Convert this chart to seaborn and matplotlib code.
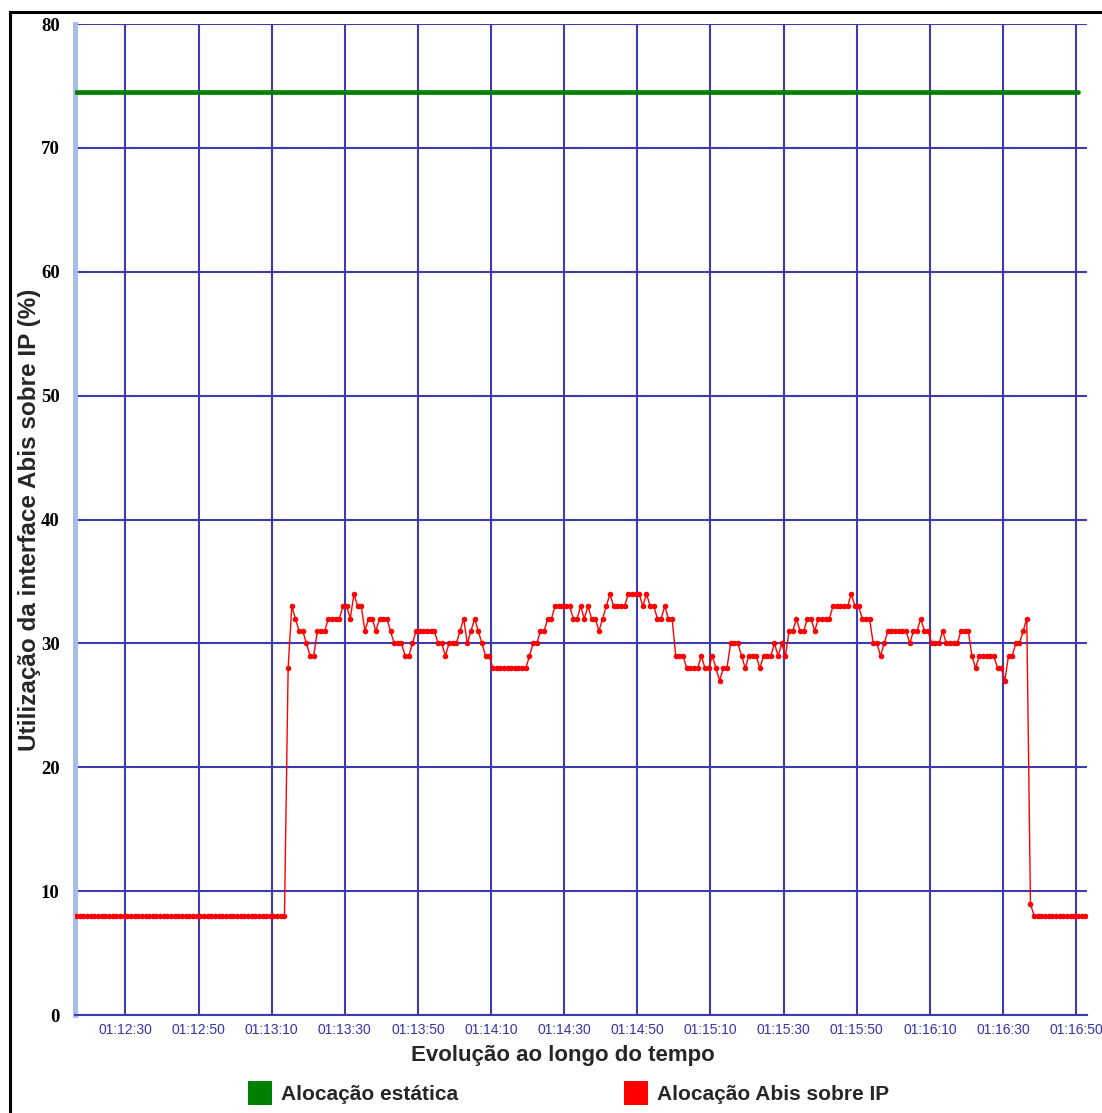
import matplotlib
matplotlib.use("Agg")
import matplotlib.pyplot as plt
import matplotlib.dates as mdates
from matplotlib.patches import Patch, Rectangle
import seaborn as sns
import pandas as pd

# leituras a cada segundo, a partir de 01:12:16.5
red_values = [
    8, 8, 8, 8, 8, 8, 8, 8, 8, 8, 8, 8, 8, 8, 8, 8, 8, 8, 8, 8,
    8, 8, 8, 8, 8, 8, 8, 8, 8, 8, 8, 8, 8, 8, 8, 8, 8, 8, 8, 8,
    8, 8, 8, 8, 8, 8, 8, 8, 8, 8, 8, 8, 8, 8, 8, 8, 8, 8,
    28, 33, 32, 31, 31, 30, 29, 29, 31, 31,
    31, 32, 32, 32, 32, 33, 33, 32, 34, 33,
    33, 31, 32, 32, 31, 32, 32, 32, 31, 30,
    30, 30, 29, 29, 30, 31, 31, 31, 31, 31,
    31, 30, 30, 29, 30, 30, 30, 31, 32, 30,
    31, 32, 31, 30, 29, 29, 28, 28, 28, 28,
    28, 28, 28, 28, 28, 28, 29, 30, 30, 31,
    31, 32, 32, 33, 33, 33, 33, 33, 32, 32,
    33, 32, 33, 32, 32, 31, 32, 33, 34, 33,
    33, 33, 33, 34, 34, 34, 34, 33, 34, 33,
    33, 32, 32, 33, 32, 32, 29, 29, 29, 28,
    28, 28, 28, 29, 28, 28, 29, 28, 27, 28,
    28, 30, 30, 30, 29, 28, 29, 29, 29, 28,
    29, 29, 29, 30, 29, 30, 29, 31, 31, 32,
    31, 31, 32, 32, 31, 32, 32, 32, 32, 33,
    33, 33, 33, 33, 34, 33, 33, 32, 32, 32,
    30, 30, 29, 30, 31, 31, 31, 31, 31, 31,
    30, 31, 31, 32, 31, 31, 30, 30, 30, 31,
    30, 30, 30, 30, 31, 31, 31, 29, 28, 29,
    29, 29, 29, 29, 28, 28, 27, 29, 29, 30,
    30, 31, 32,
    9,
    8, 8, 8, 8, 8, 8, 8, 8, 8, 8, 8, 8, 8, 8, 8,
]
red_times = pd.date_range("2000-01-01 01:12:16.5", periods=len(red_values), freq="1s")

green_times = pd.to_datetime(["2000-01-01 01:12:16.5", "2000-01-01 01:16:50.5"])
green_values = [74.5, 74.5]

y_ticks = [0, 10, 20, 30, 40, 50, 60, 70, 80]
legend_labels = ["Alocação estática", "Alocação Abis sobre IP"]

grid_blue = "#3c3cb0"

sns.set_style("white")
plt.rcParams["font.family"] = ["Liberation Sans", "DejaVu Sans"]

fig = plt.figure(figsize=(11.02, 11.13), dpi=100)
ax = fig.add_axes([0.068, 0.088, 0.9185, 0.8904])

sns.lineplot(x=green_times, y=green_values, ax=ax, color="#008000", linewidth=3.4, zorder=4)
sns.lineplot(x=red_times, y=red_values, ax=ax, color="#ff0000", linewidth=1.0,
             marker="o", markersize=4, markeredgewidth=0, zorder=5)

ax.set_xlim(pd.Timestamp("2000-01-01 01:12:16.2"), pd.Timestamp("2000-01-01 01:16:53"))
ax.set_ylim(0, 80)
ax.set_yticks(y_ticks)
ax.yaxis.set_minor_locator(matplotlib.ticker.MultipleLocator(5))

ax.xaxis.set_major_locator(mdates.SecondLocator(bysecond=[10, 30, 50]))
ax.xaxis.set_major_formatter(mdates.DateFormatter("%H:%M:%S"))

ax.grid(True, color=grid_blue, linewidth=1.5, zorder=1)
ax.set_axisbelow(True)

for s in ["top", "right"]:
    ax.spines[s].set_visible(False)
ax.spines["bottom"].set_color(grid_blue)
ax.spines["bottom"].set_linewidth(1.5)
ax.spines["left"].set_color("#a8bce8")
ax.spines["left"].set_linewidth(3.5)

ax.tick_params(axis="x", colors=grid_blue, length=6, width=1.5, labelsize=10, pad=0)
ax.tick_params(axis="y", which="major", colors=grid_blue, length=5, width=1.5, pad=6)
ax.tick_params(axis="y", which="minor", left=True, colors=grid_blue, length=3, width=1.2,
               direction="inout")
for lab in ax.get_xticklabels():
    lab.set_color("#3333aa")
for lab in ax.get_yticklabels():
    lab.set_color("black")
    lab.set_fontfamily("Liberation Serif")
    lab.set_fontweight("bold")
    lab.set_fontsize(13.5)

ax.set_xlabel("Evolução ao longo do tempo", fontsize=16, fontweight="bold", va="center")
ax.xaxis.set_label_coords(0.482, -0.041)
ax.set_ylabel("Utilização da interface Abis sobre IP (%)", fontsize=17.5, fontweight="bold", va="center")
ax.yaxis.set_label_coords(-0.0445, 0.5)

handles = [Patch(facecolor="#008000", edgecolor="none"), Patch(facecolor="#ff0000", edgecolor="none")]
fig.legend(handles, legend_labels, loc="center", bbox_to_anchor=(0.516, 0.018), ncol=2,
           frameon=False, prop={"size": 15, "weight": "bold"}, handlelength=1.15,
           handleheight=1.45, handletextpad=0.43, columnspacing=8.0)

fig.patches.append(Rectangle((0.009, -0.1), 1.2, 1.089, transform=fig.transFigure,
                             fill=False, edgecolor="black", linewidth=2.2))

fig.savefig("out.png", dpi=100, facecolor="white")
